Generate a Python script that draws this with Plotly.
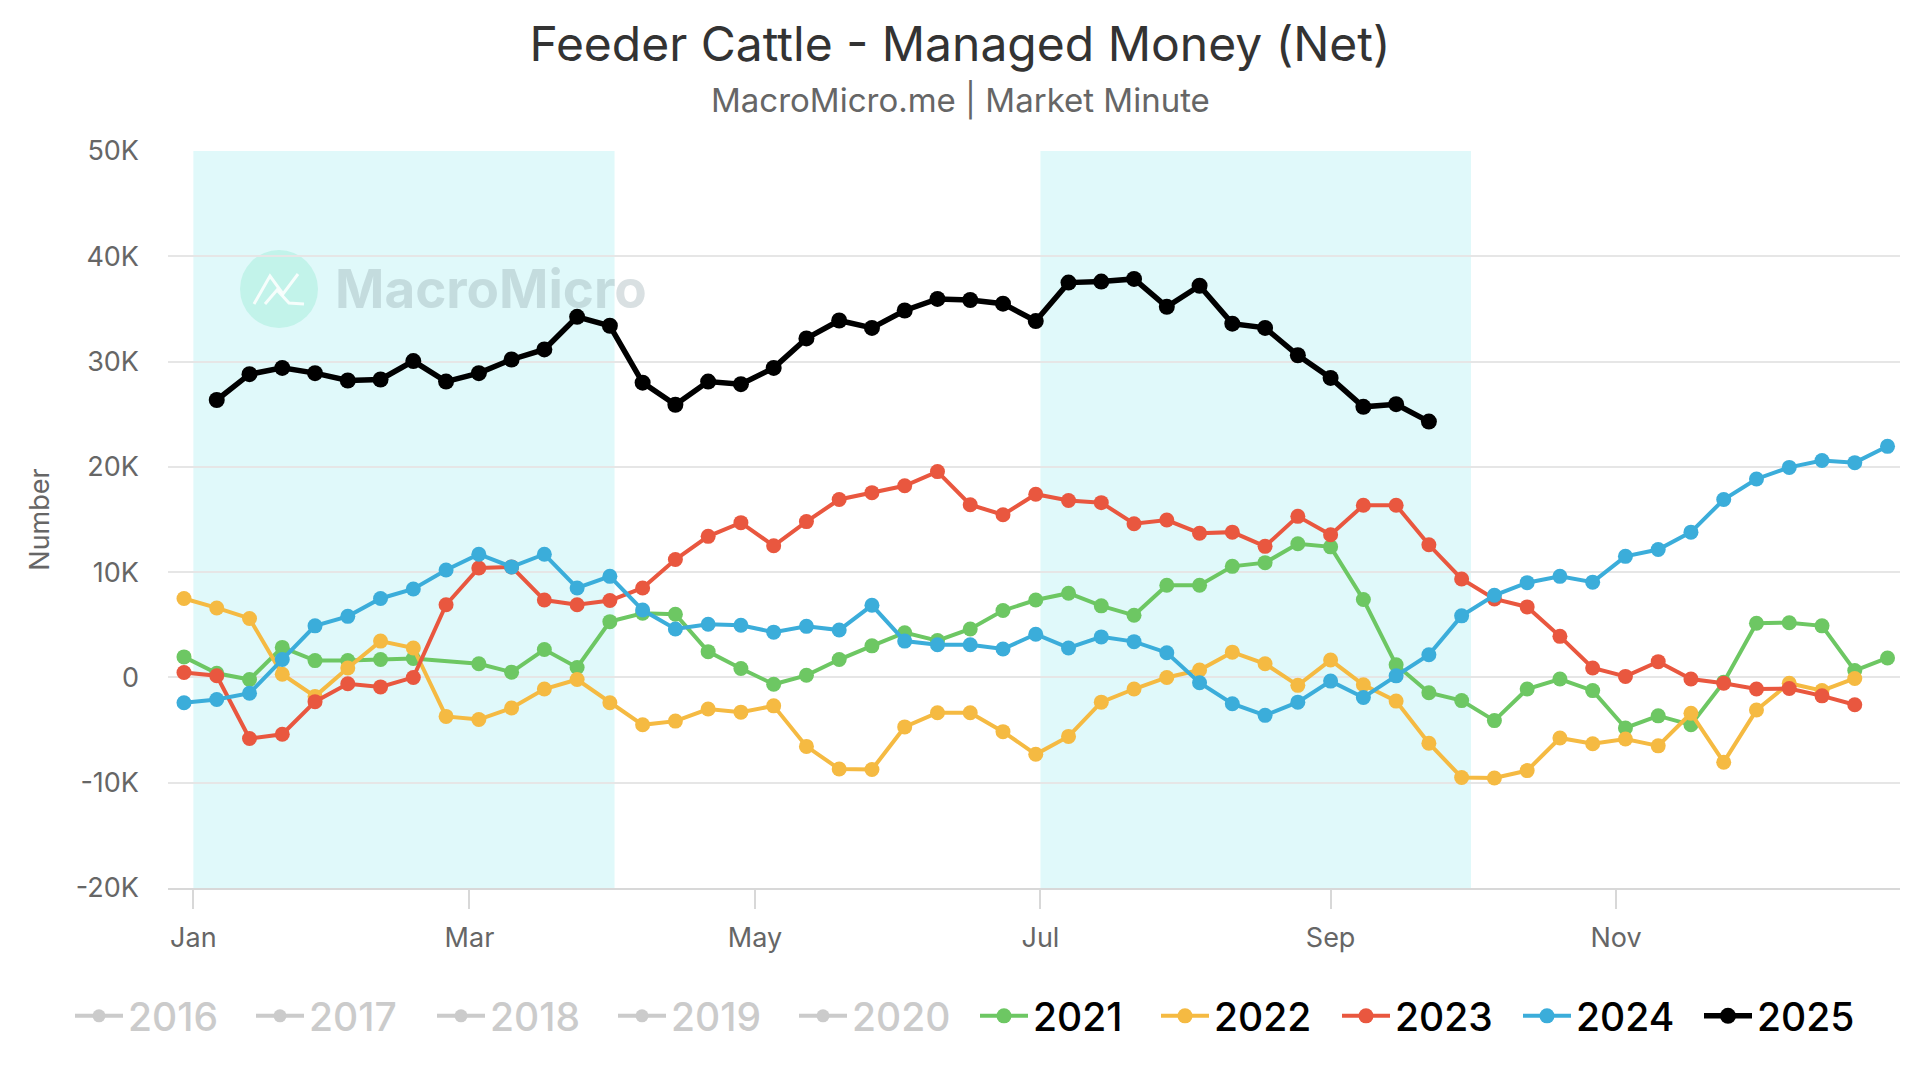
import pandas as pd
import plotly.graph_objects as go

# weekly managed-money net positions (thousands of contracts), all years drawn on one calendar
first_week = "2024-12-30"

y2021 = [1.95, 0.4, -0.2, 2.85, 1.6, 1.6, 1.7, 1.8, None, 1.3, 0.5,
         2.65, 0.95, 5.3, 6.1, 6.0, 2.45, 0.85, -0.65, 0.2, 1.7, 3.0,
         4.25, 3.5, 4.6, 6.35, 7.35, 8.0, 6.8, 5.9, 8.75, 8.75,
         10.55, 10.9, 12.7, 12.4, 7.4, 1.2, -1.45, -2.2, -4.1, -1.1,
         -0.15, -1.25, -4.8, -3.65, -4.5, -0.45, 5.15, 5.2, 4.9, 0.65, 1.85]
y2022 = [7.5, 6.6, 5.6, 0.3, -1.8, 0.9, 3.45, 2.8, -3.7, -4.0, -2.9,
         -1.1, -0.2, -2.4, -4.5, -4.15, -3.0, -3.3, -2.7, -6.55, -8.7, -8.75,
         -4.7, -3.35, -3.35, -5.15, -7.3, -5.6, -2.35, -1.1, 0.0, 0.7,
         2.4, 1.3, -0.75, 1.65, -0.7, -2.25, -6.25, -9.5, -9.55, -8.85,
         -5.75, -6.3, -5.85, -6.5, -3.4, -8.05, -3.1, -0.55, -1.25, -0.1]
y2023 = [0.47, 0.16, -5.8, -5.4, -2.3, -0.6, -0.9, 0.0, 6.9, 10.4, 10.5,
         7.35, 6.9, 7.3, 8.5, 11.2, 13.4, 14.7, 12.5, 14.8, 16.9, 17.55,
         18.2, 19.55, 16.4, 15.45, 17.4, 16.8, 16.6, 14.6, 14.95, 13.7,
         13.8, 12.45, 15.3, 13.55, 16.35, 16.35, 12.6, 9.35, 7.45, 6.7,
         3.9, 0.9, 0.1, 1.5, -0.15, -0.55, -1.1, -1.05, -1.75, -2.6]
y2024 = [-2.4, -2.1, -1.5, 1.7, 4.9, 5.8, 7.5, 8.4, 10.2, 11.7, 10.5,
         11.7, 8.5, 9.6, 6.4, 4.6, 5.05, 4.95, 4.3, 4.85, 4.5, 6.85,
         3.45, 3.1, 3.1, 2.7, 4.1, 2.8, 3.85, 3.4, 2.35, -0.5,
         -2.5, -3.6, -2.35, -0.35, -1.9, 0.15, 2.15, 5.85, 7.8, 9.0,
         9.6, 9.05, 11.5, 12.15, 13.8, 16.9, 18.85, 19.95, 20.6, 20.4, 21.95]
y2025 = [26.35, 28.8, 29.4, 28.9, 28.2, 28.3, 30.05, 28.1, 28.9, 30.2,
         31.15, 34.25, 33.4, 28.0, 25.9, 28.1, 27.85, 29.4, 32.2, 33.9, 33.2,
         34.85, 35.95, 35.85, 35.5, 33.85, 37.5, 37.6, 37.85, 35.2, 37.2,
         33.6, 33.2, 30.6, 28.45, 25.7, 25.95, 24.3]

shown_years = ["2021", "2022", "2023", "2024", "2025"]
shown_values = [y2021, y2022, y2023, y2024, y2025]
start_week = [0, 0, 0, 0, 1]
colors = ["#6dc763", "#f5ba42", "#e9573f", "#3badda", "#000000"]
hidden_years = ["2016", "2017", "2018", "2019", "2020"]

ytick_vals = [-20, -10, 0, 10, 20, 30, 40, 50]
ytick_text = ["-20K", "-10K", "0", "10K", "20K", "30K", "40K", "50K"]
shade_periods = [("2025-01-01", "2025-04-01"), ("2025-07-01", "2025-10-01")]

FONT = "Inter"
PL, PR, PT, PB = 168, 1900, 151, 888


def px(x, y):
    # pixel position -> paper coords (for the watermark / subtitle only)
    return (x - PL) / (PR - PL), (PB - y) / (PB - PT)


fig = go.Figure()

# years switched off in the legend (nothing drawn for them)
for yr in hidden_years:
    fig.add_trace(go.Scatter(
        x=[None], y=[None], mode="lines+markers", visible="legendonly", legend="legend",
        name="<span style='color:#999999'>" + yr + "</span>",
        line=dict(color="#999999", width=4), marker=dict(color="#999999", size=13)))

for yr, vals, sw, col in zip(shown_years, shown_values, start_week, colors):
    dates = pd.date_range(first_week, periods=sw + len(vals), freq="7D")[sw:]
    is_last = yr == "2025"
    fig.add_trace(go.Scatter(
        x=dates, y=vals, mode="lines+markers", name=yr, connectgaps=True, legend="legend2",
        line=dict(color=col, width=5.5 if is_last else 4),
        marker=dict(color=col, size=16 if is_last else 15)))

for a, b in shade_periods:
    fig.add_shape(type="rect", xref="x", yref="paper", x0=a, x1=b, y0=0, y1=1,
                  fillcolor="#e0f9fa", line_width=0, layer="below")

# MacroMicro watermark
cx0, cy0 = px(240, 250)
cx1, cy1 = px(318, 328)
fig.add_shape(type="circle", xref="paper", yref="paper", x0=cx0, y0=cy1, x1=cx1, y1=cy0,
              fillcolor="#c2f3ea", line_width=0, layer="below")
pts1 = [px(254, 304), px(270, 276), px(283, 294), px(298, 274)]
pts2 = [px(265, 304), px(277, 290), px(289, 303), px(304, 304)]
for pts in (pts1, pts2):
    path = "M " + " L ".join(f"{p[0]},{p[1]}" for p in pts)
    fig.add_shape(type="path", xref="paper", yref="paper", path=path,
                  line=dict(color="rgba(255,255,255,0.85)", width=3), layer="below")
wx, wy = px(333, 289)
fig.add_annotation(x=wx, y=wy, xref="paper", yref="paper", xanchor="left", yanchor="middle",
                   text="<b>MacroMicro</b>", showarrow=False,
                   font=dict(family=FONT, size=53, color="rgba(140,160,168,0.33)"))

sx, sy = px(960, 100)
fig.add_annotation(x=sx, y=sy, xref="paper", yref="paper", yanchor="middle",
                   text="MacroMicro.me | Market Minute", showarrow=False,
                   font=dict(family=FONT, size=33, color="#666666"))

legend_style = dict(orientation="h", xref="container", xanchor="left",
                    yref="container", y=1 - 1016 / 1080, yanchor="middle",
                    font=dict(family=FONT, size=39, color="#000000", weight=500),
                    entrywidth=118, itemwidth=48, bgcolor="rgba(0,0,0,0)")

fig.update_layout(
    width=1920, height=1080,
    margin=dict(l=PL, r=1920 - PR, t=PT, b=1080 - PB),
    paper_bgcolor="white", plot_bgcolor="white",
    font=dict(family=FONT, color="#666666"),
    title=dict(text="Feeder Cattle - Managed Money (Net)", x=0.5, xanchor="center",
               y=1 - 44 / 1080, yanchor="middle", yref="container",
               font=dict(family=FONT, size=48, color="#333333")),
    showlegend=True,
    legend=dict(legend_style, x=70 / 1920),
    legend2=dict(legend_style, x=(70 + 5 * 181) / 1920),
    xaxis=dict(type="date", range=["2024-12-26 14:00", "2025-12-31 16:00"],
               dtick="M2", tick0="2025-01-01", tickformat="%b",
               showgrid=False, showline=True, linecolor="#d8d8d8", linewidth=2,
               ticks="outside", ticklen=19, tickcolor="#d8d8d8", tickwidth=2,
               ticklabelstandoff=6,
               tickfont=dict(family=FONT, size=27, color="#666666"), zeroline=False),
    yaxis=dict(range=[-20, 50], tickvals=ytick_vals, ticktext=ytick_text,
               showgrid=True, gridcolor="#e6e6e6", gridwidth=2, zeroline=False,
               ticklabelstandoff=28,
               tickfont=dict(family=FONT, size=27, color="#666666"),
               title=dict(text="Number", standoff=18,
                          font=dict(family=FONT, size=27, color="#666666"))),
)

fig.write_html("out.html", config={"displayModeBar": False},
               post_script="document.body.style.margin='0';")
